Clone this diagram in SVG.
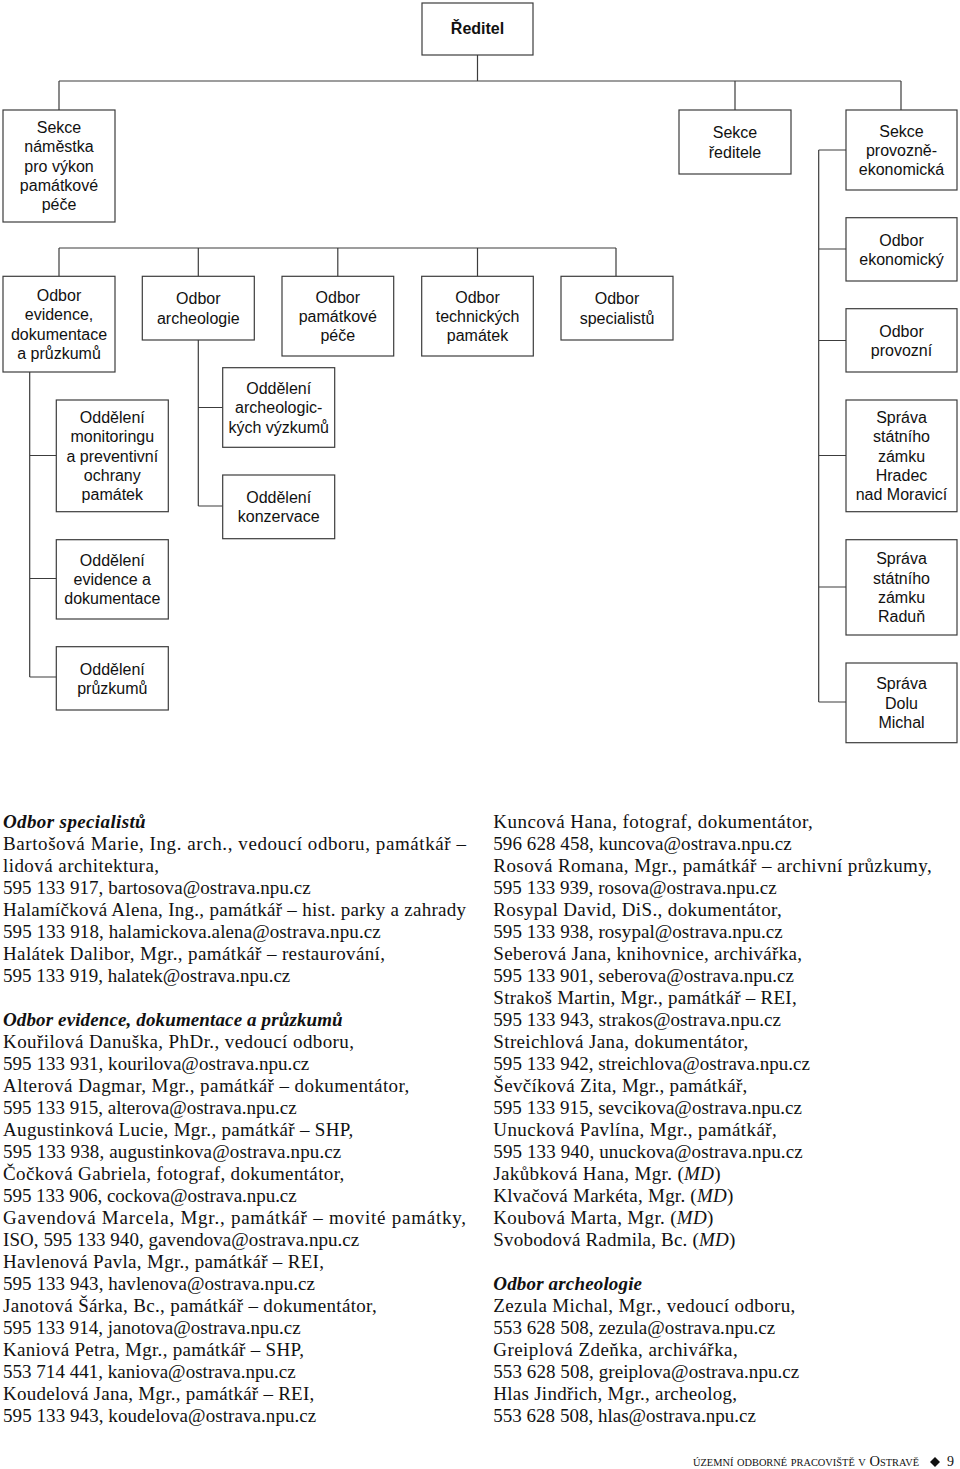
<svg xmlns="http://www.w3.org/2000/svg" width="960" height="1469" viewBox="0 0 960 1469">
<style>
.box{fill:#fff;stroke:#3c3c3c;stroke-width:1.2}
.bt{font-family:"Liberation Sans",Arial,sans-serif;font-size:16px;fill:#111;text-anchor:middle}
.conn{fill:none;stroke:#3c3c3c;stroke-width:1.2}
.tx{font-family:"Liberation Serif","Times New Roman",serif;font-size:19px;fill:#111}
.hd{font-weight:bold;font-style:italic}
.it{font-style:italic}
</style>
<rect width="960" height="1469" fill="#fff"/>
<g id="connectors">
<path class="conn" d="M477.5,55V81M59,81H901M59,81V110M735,81V110M901,81V110"/>
<path class="conn" d="M59,248H616M59,248V276M198.3,248V276M337.8,248V276M477.5,248V276M616,248V276"/>
<path class="conn" d="M818.7,150V702M818.7,150H846M818.7,249H846M818.7,340.5H846M818.7,455.5H846M818.7,587H846M818.7,702H846"/>
<path class="conn" d="M29.7,372V677M29.7,455.5H56.3M29.7,578.5H56.3M29.7,677H56.3"/>
<path class="conn" d="M198.3,340V506M198.3,407.5H222.7M198.3,506H222.7"/>
</g>
<g id="reditel"><rect class="box" x="422" y="3" width="111" height="52"/><text class="bt" x="477.5" y="34" font-weight="bold" font-size="17">Ředitel</text></g>
<g id="sekce-namestka"><rect class="box" x="3" y="110" width="112" height="112"/><text class="bt"><tspan x="59" y="133">Sekce</tspan><tspan x="59" y="152.3">náměstka</tspan><tspan x="59" y="171.6">pro výkon</tspan><tspan x="59" y="190.9">památkové</tspan><tspan x="59" y="210.2">péče</tspan></text></g>
<g id="sekce-reditele"><rect class="box" x="679" y="110" width="112" height="64"/><text class="bt"><tspan x="735" y="138.2">Sekce</tspan><tspan x="735" y="157.5">ředitele</tspan></text></g>
<g id="sekce-provozne"><rect class="box" x="846" y="110" width="111" height="80"/><text class="bt"><tspan x="901.5" y="136.5">Sekce</tspan><tspan x="901.5" y="155.8">provozně-</tspan><tspan x="901.5" y="175.1">ekonomická</tspan></text></g>
<g id="odbor-ekonomicky"><rect class="box" x="846" y="217.7" width="111" height="63.3"/><text class="bt"><tspan x="901.5" y="245.5">Odbor</tspan><tspan x="901.5" y="264.8">ekonomický</tspan></text></g>
<g id="odbor-provozni"><rect class="box" x="846" y="308.7" width="111" height="63.3"/><text class="bt"><tspan x="901.5" y="336.5">Odbor</tspan><tspan x="901.5" y="355.8">provozní</tspan></text></g>
<g id="sprava-hradec"><rect class="box" x="846" y="400" width="111" height="111.7"/><text class="bt"><tspan x="901.5" y="423">Správa</tspan><tspan x="901.5" y="442.3">státního</tspan><tspan x="901.5" y="461.6">zámku</tspan><tspan x="901.5" y="480.9">Hradec</tspan><tspan x="901.5" y="500.2">nad Moravicí</tspan></text></g>
<g id="sprava-radun"><rect class="box" x="846" y="539.7" width="111" height="95.3"/><text class="bt"><tspan x="901.5" y="564.2">Správa</tspan><tspan x="901.5" y="583.5">státního</tspan><tspan x="901.5" y="602.8">zámku</tspan><tspan x="901.5" y="622.1">Raduň</tspan></text></g>
<g id="sprava-dolu"><rect class="box" x="846" y="663" width="111" height="79.7"/><text class="bt"><tspan x="901.5" y="689.3">Správa</tspan><tspan x="901.5" y="708.6">Dolu</tspan><tspan x="901.5" y="727.9">Michal</tspan></text></g>
<g id="odbor-evidence"><rect class="box" x="3" y="276.3" width="112" height="95.7"/><text class="bt"><tspan x="59" y="301">Odbor</tspan><tspan x="59" y="320.3">evidence,</tspan><tspan x="59" y="339.6">dokumentace</tspan><tspan x="59" y="358.9">a průzkumů</tspan></text></g>
<g id="odbor-archeologie"><rect class="box" x="142.3" y="276.3" width="112" height="63.7"/><text class="bt"><tspan x="198.3" y="304.3">Odbor</tspan><tspan x="198.3" y="323.6">archeologie</tspan></text></g>
<g id="odbor-pamatkove"><rect class="box" x="282" y="276.3" width="111.7" height="79.7"/><text class="bt"><tspan x="337.8" y="302.7">Odbor</tspan><tspan x="337.8" y="322">památkové</tspan><tspan x="337.8" y="341.3">péče</tspan></text></g>
<g id="odbor-technickych"><rect class="box" x="421.7" y="276.3" width="111.6" height="79.7"/><text class="bt"><tspan x="477.5" y="302.7">Odbor</tspan><tspan x="477.5" y="322">technických</tspan><tspan x="477.5" y="341.3">památek</tspan></text></g>
<g id="odbor-specialistu"><rect class="box" x="561" y="276.3" width="112" height="63.7"/><text class="bt"><tspan x="617" y="304.3">Odbor</tspan><tspan x="617" y="323.6">specialistů</tspan></text></g>
<g id="odd-monitoringu"><rect class="box" x="56.3" y="400" width="112" height="111.7"/><text class="bt"><tspan x="112.3" y="423">Oddělení</tspan><tspan x="112.3" y="442.3">monitoringu</tspan><tspan x="112.3" y="461.6">a preventivní</tspan><tspan x="112.3" y="480.9">ochrany</tspan><tspan x="112.3" y="500.2">památek</tspan></text></g>
<g id="odd-evidence"><rect class="box" x="56.3" y="539.7" width="112" height="79.3"/><text class="bt"><tspan x="112.3" y="565.8">Oddělení</tspan><tspan x="112.3" y="585.1">evidence a</tspan><tspan x="112.3" y="604.4">dokumentace</tspan></text></g>
<g id="odd-pruzkumu"><rect class="box" x="56.3" y="646.7" width="112" height="63.3"/><text class="bt"><tspan x="112.3" y="674.5">Oddělení</tspan><tspan x="112.3" y="693.8">průzkumů</tspan></text></g>
<g id="odd-archeologickych"><rect class="box" x="222.7" y="367.7" width="112" height="79.6"/><text class="bt"><tspan x="278.7" y="394">Oddělení</tspan><tspan x="278.7" y="413.3">archeologic-</tspan><tspan x="278.7" y="432.6">kých výzkumů</tspan></text></g>
<g id="odd-konzervace"><rect class="box" x="222.7" y="475" width="112" height="63.7"/><text class="bt"><tspan x="278.7" y="503">Oddělení</tspan><tspan x="278.7" y="522.3">konzervace</tspan></text></g>
<g id="text-left" class="tx">
<text x="3" y="827.7" class="hd" textLength="142.7">Odbor specialistů</text>
<text x="3" y="849.7" textLength="463">Bartošová Marie, Ing. arch., vedoucí odboru, památkář –</text>
<text x="3" y="871.7" textLength="156">lidová architektura,</text>
<text x="3" y="893.7" textLength="307.7">595 133 917, bartosova@ostrava.npu.cz</text>
<text x="3" y="915.7" textLength="463">Halamíčková Alena, Ing., památkář – hist. parky a zahrady</text>
<text x="3" y="937.7" textLength="377.7">595 133 918, halamickova.alena@ostrava.npu.cz</text>
<text x="3" y="959.7" textLength="382">Halátek Dalibor, Mgr., památkář – restaurování,</text>
<text x="3" y="981.7" textLength="287.3">595 133 919, halatek@ostrava.npu.cz</text>
<text x="3" y="1025.7" class="hd" textLength="339.7">Odbor evidence, dokumentace a průzkumů</text>
<text x="3" y="1047.7" textLength="351">Kouřilová Danuška, PhDr., vedoucí odboru,</text>
<text x="3" y="1069.7" textLength="306.3">595 133 931, kourilova@ostrava.npu.cz</text>
<text x="3" y="1091.7" textLength="406.3">Alterová Dagmar, Mgr., památkář – dokumentátor,</text>
<text x="3" y="1113.7" textLength="293.7">595 133 915, alterova@ostrava.npu.cz</text>
<text x="3" y="1135.7" textLength="350.3">Augustinková Lucie, Mgr., památkář – SHP,</text>
<text x="3" y="1157.7" textLength="338.3">595 133 938, augustinkova@ostrava.npu.cz</text>
<text x="3" y="1179.7" textLength="341.3">Čočková Gabriela, fotograf, dokumentátor,</text>
<text x="3" y="1201.7" textLength="293.7">595 133 906, cockova@ostrava.npu.cz</text>
<text x="3" y="1223.7" textLength="463">Gavendová Marcela, Mgr., památkář – movité památky,</text>
<text x="3" y="1245.7" textLength="356.3">ISO, 595 133 940, gavendova@ostrava.npu.cz</text>
<text x="3" y="1267.7" textLength="321">Havlenová Pavla, Mgr., památkář – REI,</text>
<text x="3" y="1289.7" textLength="312">595 133 943, havlenova@ostrava.npu.cz</text>
<text x="3" y="1311.7" textLength="373.7">Janotová Šárka, Bc., památkář – dokumentátor,</text>
<text x="3" y="1333.7" textLength="297.7">595 133 914, janotova@ostrava.npu.cz</text>
<text x="3" y="1355.7" textLength="301">Kaniová Petra, Mgr., památkář – SHP,</text>
<text x="3" y="1377.7" textLength="292.7">553 714 441, kaniova@ostrava.npu.cz</text>
<text x="3" y="1399.7" textLength="311.3">Koudelová Jana, Mgr., památkář – REI,</text>
<text x="3" y="1421.7" textLength="313.3">595 133 943, koudelova@ostrava.npu.cz</text>
</g>
<g id="text-right" class="tx">
<text x="493.3" y="827.7" textLength="319.4">Kuncová Hana, fotograf, dokumentátor,</text>
<text x="493.3" y="849.7" textLength="298.4">596 628 458, kuncova@ostrava.npu.cz</text>
<text x="493.3" y="871.7" textLength="438.4">Rosová Romana, Mgr., památkář – archivní průzkumy,</text>
<text x="493.3" y="893.7" textLength="283.4">595 133 939, rosova@ostrava.npu.cz</text>
<text x="493.3" y="915.7" textLength="288.4">Rosypal David, DiS., dokumentátor,</text>
<text x="493.3" y="937.7" textLength="289.4">595 133 938, rosypal@ostrava.npu.cz</text>
<text x="493.3" y="959.7" textLength="308.7">Seberová Jana, knihovnice, archivářka,</text>
<text x="493.3" y="981.7" textLength="300.7">595 133 901, seberova@ostrava.npu.cz</text>
<text x="493.3" y="1003.7" textLength="303.4">Strakoš Martin, Mgr., památkář – REI,</text>
<text x="493.3" y="1025.7" textLength="287.7">595 133 943, strakos@ostrava.npu.cz</text>
<text x="493.3" y="1047.7" textLength="255">Streichlová Jana, dokumentátor,</text>
<text x="493.3" y="1069.7" textLength="316.7">595 133 942, streichlova@ostrava.npu.cz</text>
<text x="493.3" y="1091.7" textLength="254">Ševčíková Zita, Mgr., památkář,</text>
<text x="493.3" y="1113.7" textLength="308.7">595 133 915, sevcikova@ostrava.npu.cz</text>
<text x="493.3" y="1135.7" textLength="283.4">Unucková Pavlína, Mgr., památkář,</text>
<text x="493.3" y="1157.7" textLength="309.4">595 133 940, unuckova@ostrava.npu.cz</text>
<text x="493.3" y="1179.7" textLength="227.4">Jakůbková Hana, Mgr. (<tspan class="it">MD</tspan>)</text>
<text x="493.3" y="1201.7" textLength="240">Klvačová Markéta, Mgr. (<tspan class="it">MD</tspan>)</text>
<text x="493.3" y="1223.7" textLength="220">Koubová Marta, Mgr. (<tspan class="it">MD</tspan>)</text>
<text x="493.3" y="1245.7" textLength="242">Svobodová Radmila, Bc. (<tspan class="it">MD</tspan>)</text>
<text x="493.3" y="1289.7" class="hd" textLength="148.7">Odbor archeologie</text>
<text x="493.3" y="1311.7" textLength="302">Zezula Michal, Mgr., vedoucí odboru,</text>
<text x="493.3" y="1333.7" textLength="282">553 628 508, zezula@ostrava.npu.cz</text>
<text x="493.3" y="1355.7" textLength="244.4">Greiplová Zdeňka, archivářka,</text>
<text x="493.3" y="1377.7" textLength="306">553 628 508, greiplova@ostrava.npu.cz</text>
<text x="493.3" y="1399.7" textLength="243.7">Hlas Jindřich, Mgr., archeolog,</text>
<text x="493.3" y="1421.7" textLength="262.7">553 628 508, hlas@ostrava.npu.cz</text>
</g>
<g id="footer">
<text x="693" y="1466" font-family="'Liberation Serif','Times New Roman',serif" font-size="14" font-variant="small-caps" fill="#111" textLength="226" lengthAdjust="spacingAndGlyphs">územní odborné pracoviště v Ostravě</text>
<path d="M935,1457L940,1462L935,1467L930,1462Z" fill="#111"/>
<text x="947" y="1466" font-family="'Liberation Serif','Times New Roman',serif" font-size="14" fill="#111">9</text>
</g>
</svg>
